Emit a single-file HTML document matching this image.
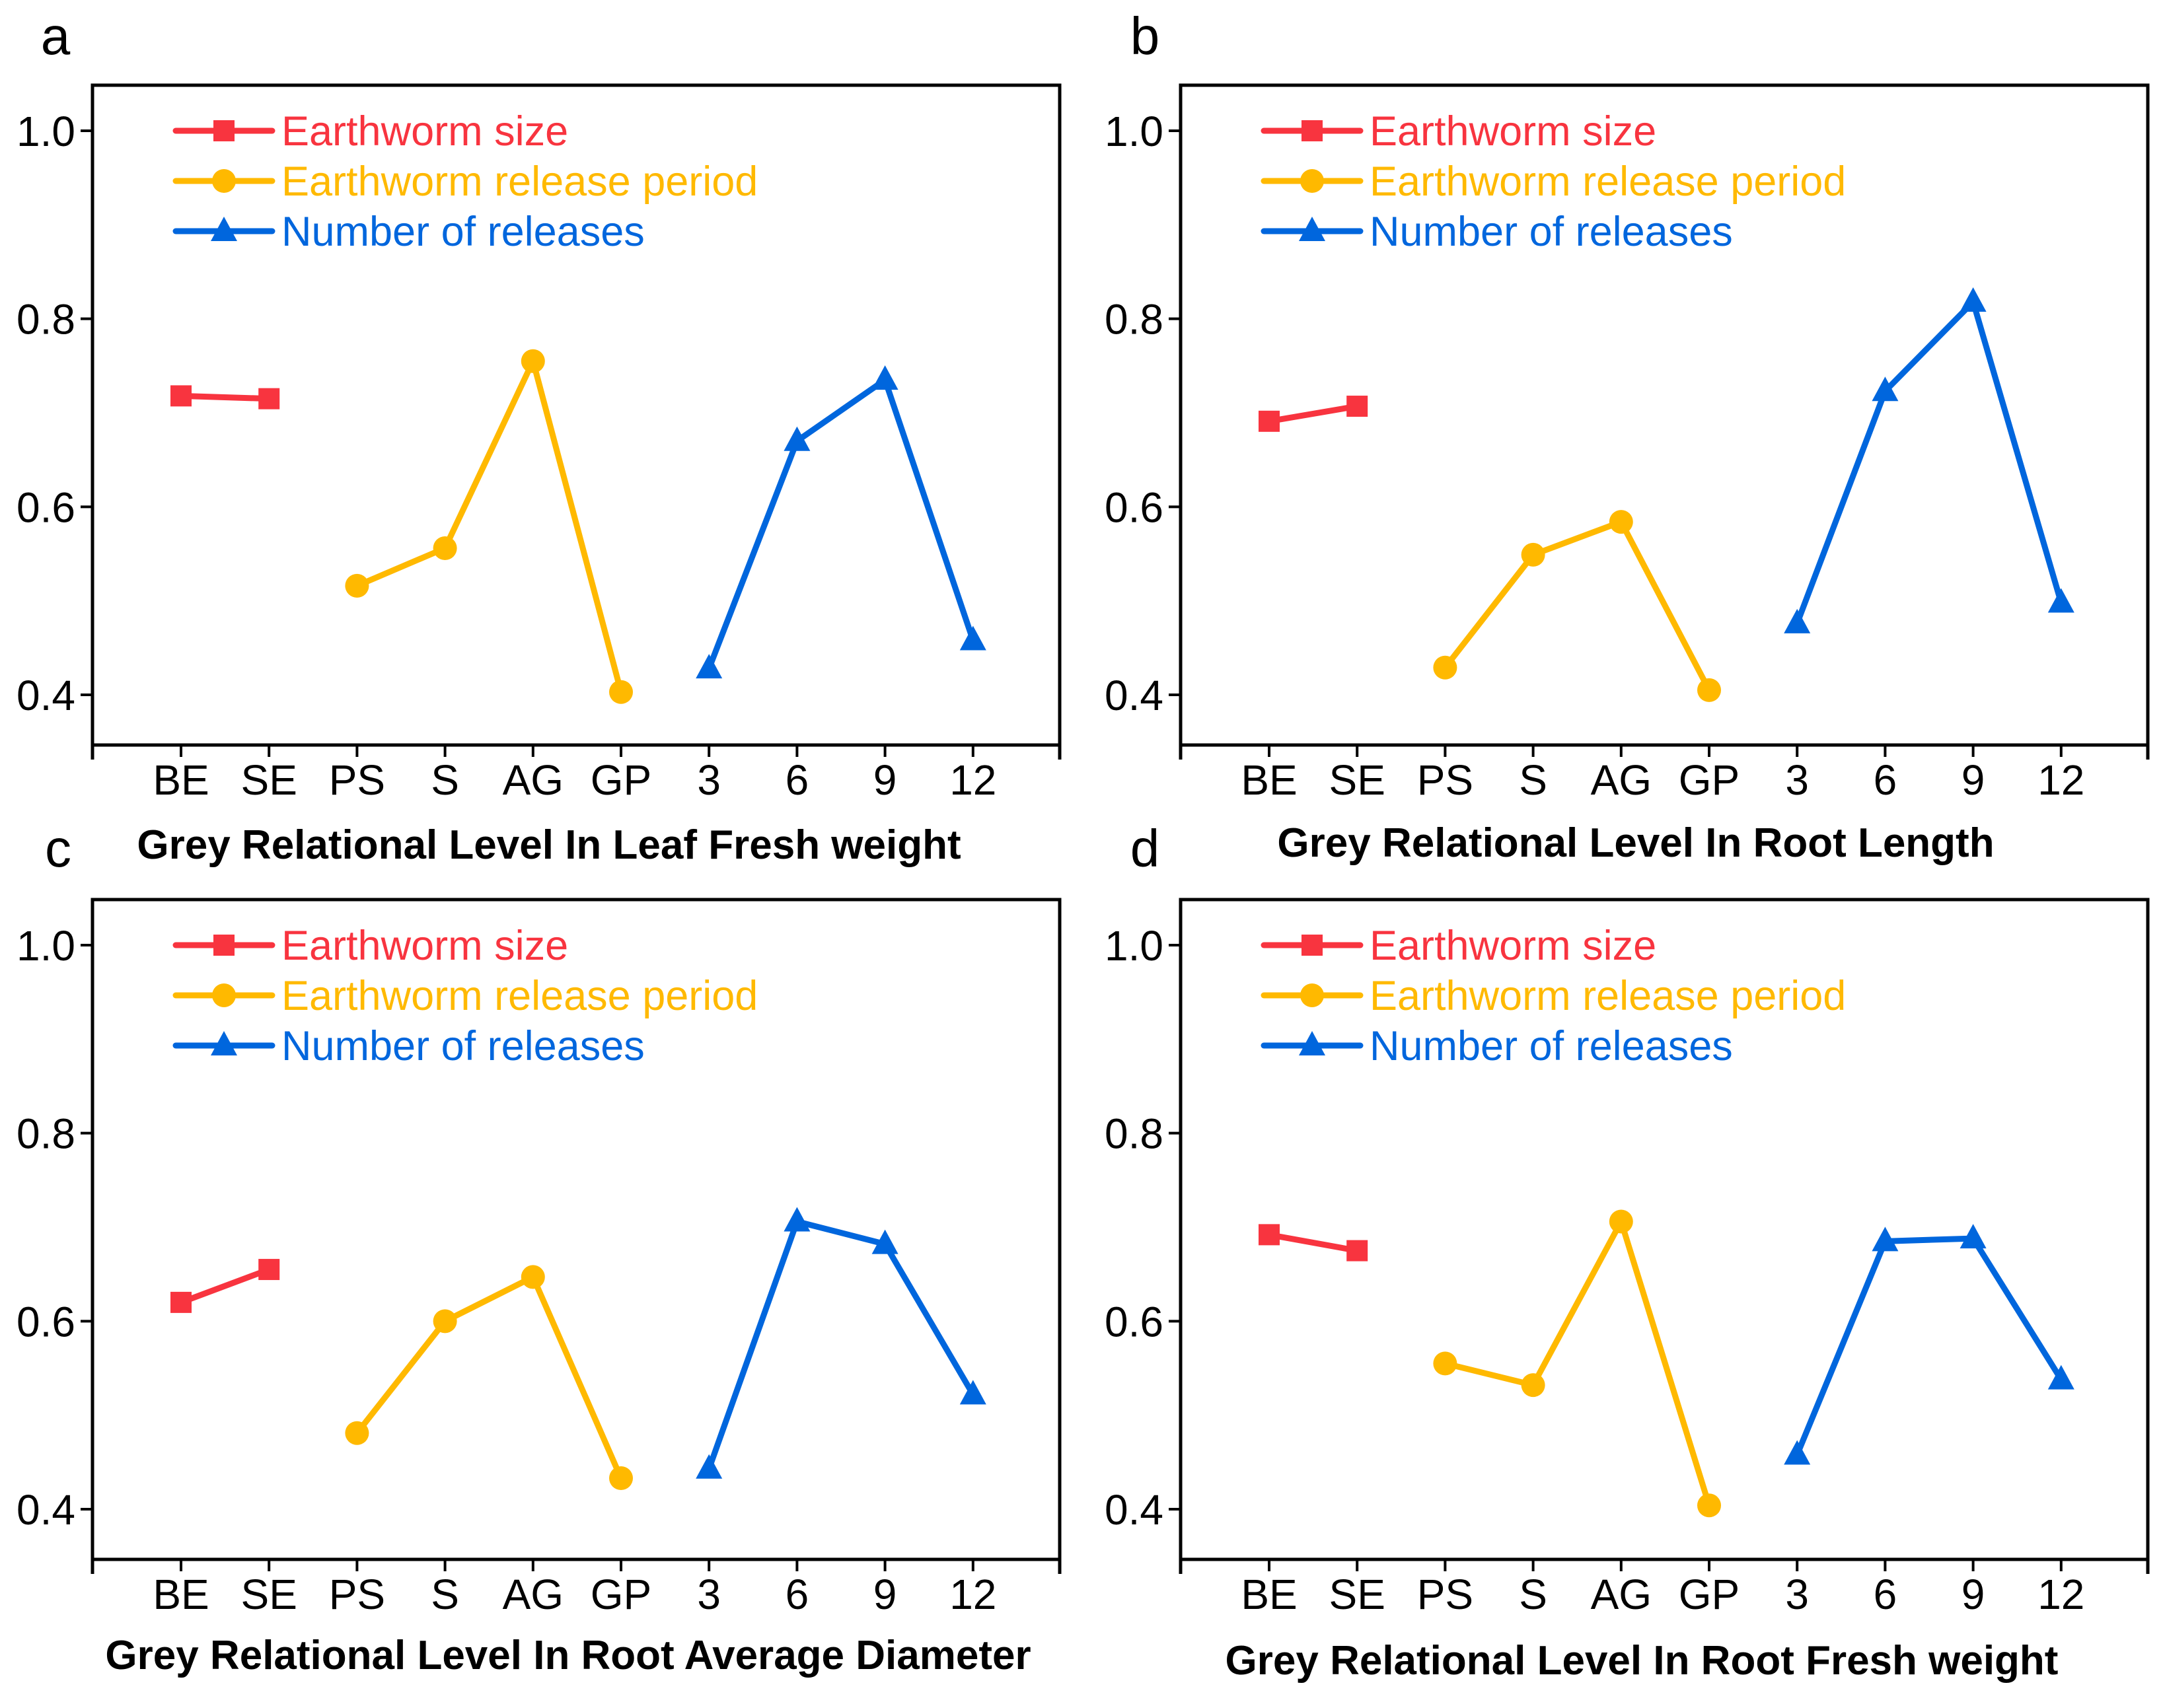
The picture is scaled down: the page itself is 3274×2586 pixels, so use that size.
<!DOCTYPE html>
<html><head><meta charset="utf-8"><style>
html,body{margin:0;padding:0;background:#fff;}
svg{display:block;font-family:"Liberation Sans",Arial,sans-serif;}
</style></head><body>
<svg id="fig" width="3274" height="2586" viewBox="0 0 3274 2586" xmlns="http://www.w3.org/2000/svg"></svg>
<script>
const categories = ["BE","SE","PS","S","AG","GP","3","6","9","12"];
const yTicks = [0.4,0.6,0.8,1.0];
const yTickLabels = ["0.4","0.6","0.8","1.0"];
const seriesNames = ["Earthworm size","Earthworm release period","Number of releases"];
const panelLetters = ["a","b","c","d"];
const panelTitles = ["Grey Relational Level In Leaf Fresh weight","Grey Relational Level In Root Length","Grey Relational Level In Root Average Diameter","Grey Relational Level In Root Fresh weight"];
const sizeA = [0.718,0.715], periodA = [0.516,0.556,0.755,0.403], numA = [0.428,0.670,0.735,0.458];
const sizeB = [0.691,0.707], periodB = [0.429,0.549,0.584,0.405], numB = [0.476,0.723,0.818,0.498];
const sizeC = [0.620,0.655], periodC = [0.481,0.600,0.647,0.433], numC = [0.443,0.706,0.682,0.522];
const sizeD = [0.692,0.675], periodD = [0.555,0.532,0.706,0.404], numD = [0.458,0.685,0.688,0.538];

const NS="http://www.w3.org/2000/svg";
const svg=document.getElementById('fig');
const COLORS=["#f8343f","#ffb900","#0066dd"];
function mk(tag,attrs,parent){const e=document.createElementNS(NS,tag);for(const k in attrs)e.setAttribute(k,attrs[k]);(parent||svg).appendChild(e);return e;}

const panels=[
 {ox:0,oy:0,title:panelTitles[0],tx:831,ty:1300,lx:84,ly:82,data:[sizeA,periodA,numA]},
 {ox:1647,oy:0,title:panelTitles[1],tx:2476,ty:1297,lx:1733,ly:82,data:[sizeB,periodB,numB]},
 {ox:0,oy:1233,title:panelTitles[2],tx:860,ty:2527,lx:88,ly:1312,data:[sizeC,periodC,numC]},
 {ox:1647,oy:1233,title:panelTitles[3],tx:2485,ty:2535,lx:1733,ly:1312,data:[sizeD,periodD,numD]}
];

function marker(g,type,x,y,color){
  let m;
  if(type===0){m=mk('rect',{x:x-16,y:y-16,width:32,height:32,fill:color},g);}
  else if(type===1){m=mk('circle',{cx:x,cy:y,r:18,fill:color},g);}
  else {m=mk('polygon',{points:`${x},${y-22} ${x+20},${y+15} ${x-20},${y+15}`,fill:color},g);}
  return m;
}

panels.forEach((p,pi)=>{
  const g=mk('g',{});
  
  
  const L=140+p.ox, R=1604+p.ox, T=129+p.oy, B=1128+p.oy;
  const yScale=v=>p.oy+1052-(v-0.4)/0.6*854;
  const xScale=i=>L+134+i*133.2;
  const frame=mk('rect',{x:L,y:T,width:R-L,height:B-T,fill:'none',stroke:'#000','stroke-width':5},g);
  
  
  yTicks.forEach((v,i)=>{
    const y=yScale(v);
    mk('line',{x1:L-18,x2:L,y1:y,y2:y,stroke:'#000','stroke-width':4},g);
    const t=mk('text',{x:L-26,y:y+23,'text-anchor':'end','font-size':64,fill:'#000'},g);
    t.textContent=yTickLabels[i];
    
    
  });
  [L,R].forEach(x=>mk('line',{x1:x,x2:x,y1:B,y2:B+22,stroke:'#000','stroke-width':5},g));
  categories.forEach((c,i)=>{
    const x=xScale(i);
    mk('line',{x1:x,x2:x,y1:B,y2:B+18,stroke:'#000','stroke-width':4},g);
    const t=mk('text',{x:x,y:B+75,'text-anchor':'middle','font-size':64,fill:'#000'},g);
    t.textContent=c;
    
    
  });
  const offsets=[0,2,6];
  p.data.forEach((arr,si)=>{
    const sg=mk('g',{},g);
    
    
    const pts=arr.map((v,j)=>[xScale(offsets[si]+j),yScale(v)]);
    mk('polyline',{points:pts.map(q=>q.join(',')).join(' '),fill:'none',stroke:COLORS[si],'stroke-width':9,'stroke-linejoin':'round'},sg);
    pts.forEach(q=>{const m=marker(sg,si,q[0],q[1],COLORS[si]);
      
      });
  });
  seriesNames.forEach((n,si)=>{
    const y=p.oy+198+si*76;
    const lg=mk('g',{},g);
    
    
    mk('line',{x1:L+126,x2:L+272,y1:y,y2:y,stroke:COLORS[si],'stroke-width':9,'stroke-linecap':'round'},lg);
    marker(lg,si,L+199,y,COLORS[si]);
    const t=mk('text',{x:L+286,y:y+22,'font-size':63,fill:COLORS[si]},lg);
    t.textContent=n;
  });
  const tt=mk('text',{x:p.tx,y:p.ty,'text-anchor':'middle','font-size':62,'font-weight':'bold',fill:'#000'},g);
  tt.textContent=p.title;
  
  
  const lt=mk('text',{x:p.lx,y:p.ly,'text-anchor':'middle','font-size':80,fill:'#000'},g);
  lt.textContent=panelLetters[pi];
  
  
});
</script>
</body></html>
